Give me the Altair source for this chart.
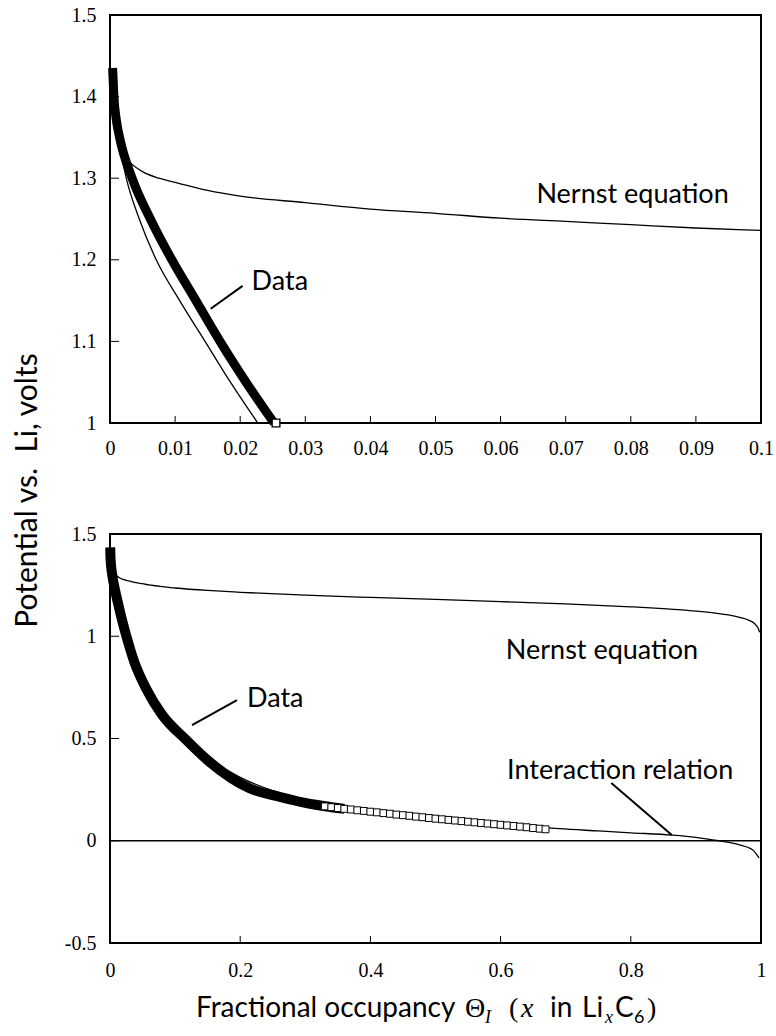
import altair as alt
import pandas as pd

# ---------------- data ----------------
# Nernst-equation curve (theta, volts)
nernst_x = [0.0012, 0.002, 0.003, 0.005, 0.0075, 0.01, 0.015, 0.02, 0.03, 0.04, 0.05,
            0.06, 0.07, 0.08, 0.09, 0.10, 0.15, 0.20, 0.30, 0.40, 0.50, 0.60, 0.70,
            0.80, 0.85, 0.90, 0.93, 0.95, 0.97, 0.98, 0.99, 0.995, 0.998]
nernst_y = [1.345, 1.330, 1.320, 1.308, 1.300, 1.295, 1.285, 1.278, 1.270, 1.262, 1.257,
            1.251, 1.247, 1.243, 1.239, 1.236, 1.224, 1.215, 1.201, 1.190, 1.180, 1.169, 1.158,
            1.144, 1.135, 1.123, 1.113, 1.104, 1.090, 1.080, 1.062, 1.043, 1.020]

# Interaction-relation curve
inter_x = [0.0003, 0.001, 0.0017, 0.0025, 0.0045, 0.0071, 0.0107, 0.0146, 0.0185, 0.0227,
           0.035, 0.05, 0.075, 0.105, 0.14, 0.20, 0.25, 0.30, 0.35, 0.40, 0.50, 0.60,
           0.69, 0.75, 0.80, 0.863, 0.90, 0.935, 0.966, 0.987, 0.997]
inter_y = [1.43, 1.36, 1.33, 1.30, 1.25, 1.20, 1.15, 1.10, 1.05, 1.00,
           0.87, 0.76, 0.62, 0.52, 0.43, 0.31, 0.245, 0.20, 0.17, 0.15, 0.115, 0.085,
           0.059, 0.048, 0.039, 0.028, 0.017, 0.0, -0.019, -0.044, -0.084]

# Measured data (dense part drawn as a heavy trace)
data_x = [0.0004, 0.0006, 0.0010, 0.0015, 0.0034, 0.0062, 0.0095, 0.0132, 0.0169, 0.0209,
          0.0252, 0.037, 0.055, 0.080, 0.116, 0.152, 0.2135, 0.26, 0.30, 0.336, 0.36]
data_y = [1.435, 1.40, 1.37, 1.349, 1.30, 1.25, 1.20, 1.15, 1.10, 1.05,
          1.00, 0.877, 0.747, 0.616, 0.496, 0.388, 0.258, 0.215, 0.185, 0.166, 0.156]

# Measured data shown as open squares (sparser part)
sq_x = [0.33, 0.34, 0.35, 0.36, 0.37, 0.38, 0.39, 0.40, 0.41, 0.42, 0.43, 0.44, 0.45,
        0.46, 0.47, 0.48, 0.49, 0.50, 0.51, 0.52, 0.53, 0.54, 0.55, 0.56, 0.57, 0.58,
        0.59, 0.60, 0.61, 0.62, 0.63, 0.64, 0.65, 0.66, 0.669]
sq_y = [0.168, 0.164, 0.160, 0.156, 0.153, 0.149, 0.146, 0.142, 0.139, 0.135, 0.132, 0.128, 0.125,
        0.122, 0.118, 0.115, 0.111, 0.108, 0.105, 0.102, 0.099, 0.096, 0.093, 0.090, 0.087, 0.084,
        0.081, 0.078, 0.075, 0.072, 0.069, 0.066, 0.062, 0.059, 0.056]

# last data point of the upper (magnified) panel
top_end_x = [0.0255]
top_end_y = [1.0]

# tick values
top_x_labels = [0, 0.01, 0.02, 0.03, 0.04, 0.05, 0.06, 0.07, 0.08, 0.09, 0.1]
top_y_labels = [1, 1.1, 1.2, 1.3, 1.4, 1.5]
top_x_ticks = [0.01, 0.02, 0.03, 0.04, 0.05, 0.06, 0.07, 0.08, 0.09]
top_y_ticks = [1.1, 1.2, 1.3, 1.4]
bot_x_labels = [0, 0.2, 0.4, 0.6, 0.8, 1]
bot_y_labels = [-0.5, 0, 0.5, 1, 1.5]
bot_x_ticks = [0.2, 0.4, 0.6, 0.8]
bot_y_ticks = [0, 0.5, 1]

# ---------------- frames ----------------
nernst = pd.DataFrame({"x": nernst_x, "y": nernst_y})
inter = pd.DataFrame({"x": inter_x, "y": inter_y})
meas = pd.DataFrame({"x": data_x, "y": data_y})
squares = pd.DataFrame({"x": sq_x, "y": sq_y})
top_end = pd.DataFrame({"x": top_end_x, "y": top_end_y})
one = pd.DataFrame({"k": [0]})

W = 651
H_TOP = 408
H_BOT = 409
SANS = "Lato"
SERIF = "Liberation Serif"
TICK_FS = 20
LABEL_EXPR = "replace(format(datum.value, '~g'), '\u2212', '-')"


def xenc(domain, values, pad):
    return alt.X("x:Q", scale=alt.Scale(domain=domain, nice=False, zero=False),
                 axis=alt.Axis(values=values, labelExpr=LABEL_EXPR, title=None,
                               labelPadding=pad, labelFont=SERIF, labelFontSize=TICK_FS,
                               labelColor="black", labelFlush=False, labelOverlap=False))


def yenc(domain, values, title=None):
    kw = dict(values=values, labelExpr=LABEL_EXPR, labelPadding=14, labelFont=SERIF,
              labelFontSize=TICK_FS, labelColor="black", labelFlush=False, labelOverlap=False)
    if title:
        kw.update(title=title, titleX=-74, titleY=475, titleAngle=270, titleAlign="center",
                  titleBaseline="alphabetic", titleFont=SANS, titleFontSize=30,
                  titleFontWeight="normal", titleColor="black")
    else:
        kw.update(title=None)
    return alt.Y("y:Q", scale=alt.Scale(domain=domain, nice=False, zero=False),
                 axis=alt.Axis(**kw))


def label(txt, x, y):
    return alt.Chart(one).mark_text(font=SANS, fontSize=27, align="left",
                                    baseline="alphabetic", color="black").encode(
        x=alt.datum(x), y=alt.datum(y), text=alt.value(txt))


def leader(x1, y1, x2, y2):
    return alt.Chart(one).mark_rule(color="black", strokeWidth=2).encode(
        x=alt.datum(x1), y=alt.datum(y1), x2=alt.datum(x2), y2=alt.datum(y2))


# ---------------- upper panel ----------------
TX = lambda: xenc([0, 0.1], top_x_labels, 15)
TY = lambda: yenc([1, 1.5], top_y_labels, "Potential vs.\u00a0 Li, volts")

t_nernst = alt.Chart(nernst).mark_line(color="black", strokeWidth=1.3, clip=True,
                                       interpolate="monotone").encode(x=TX(), y=TY())
t_inter = alt.Chart(inter).mark_line(color="black", strokeWidth=1.3, clip=True,
                                     interpolate="monotone").encode(x=TX(), y=TY())
t_data = alt.Chart(meas).transform_filter("datum.x <= 0.026").mark_line(
    color="black", strokeWidth=9, interpolate="monotone").encode(x=TX(), y=TY())
t_end = alt.Chart(top_end).mark_square(size=60, fill="white", stroke="black",
                                       strokeWidth=1.4, opacity=1).encode(x=TX(), y=TY())
t_xt = alt.Chart(pd.DataFrame({"x": top_x_ticks})).mark_rule(color="black", strokeWidth=1).encode(
    x=TX(), y=alt.value(H_TOP), y2=alt.value(H_TOP - 7))
t_yt = alt.Chart(pd.DataFrame({"y": top_y_ticks})).mark_rule(color="black", strokeWidth=1).encode(
    y=TY(), x=alt.value(0), x2=alt.value(9))

top = alt.layer(
    t_xt, t_yt, t_nernst, t_inter, t_data, t_end,
    label("Nernst equation", 0.0655, 1.2696),
    label("Data", 0.02175, 1.1634),
    leader(0.01547, 1.140, 0.02037, 1.168),
).properties(width=W, height=H_TOP)

# ---------------- lower panel ----------------
BX = lambda: xenc([0, 1], bot_x_labels, 17)
BY = lambda: yenc([-0.5, 1.5], bot_y_labels)

b_zero = alt.Chart(one).mark_rule(color="black", strokeWidth=1.3).encode(y=alt.datum(0))
b_nernst = alt.Chart(nernst).mark_line(color="black", strokeWidth=1.3,
                                       interpolate="monotone").encode(x=BX(), y=BY())
b_inter = alt.Chart(inter).mark_line(color="black", strokeWidth=1.3,
                                     interpolate="monotone").encode(x=BX(), y=BY())
b_data = alt.Chart(meas).mark_line(color="black", strokeWidth=10,
                                   interpolate="monotone").encode(x=BX(), y=BY())
b_sq = alt.Chart(squares).mark_square(size=48, fill="white", stroke="black",
                                      strokeWidth=1, opacity=1).encode(x=BX(), y=BY())
b_xt = alt.Chart(pd.DataFrame({"x": bot_x_ticks})).mark_rule(color="black", strokeWidth=1).encode(
    x=BX(), y=alt.value(H_BOT), y2=alt.value(H_BOT - 7))
b_yt = alt.Chart(pd.DataFrame({"y": bot_y_ticks})).mark_rule(color="black", strokeWidth=1).encode(
    y=BY(), x=alt.value(0), x2=alt.value(9))


def tpiece(txt, px, py, font=SANS, size=28, style="normal"):
    return alt.Chart(one).mark_text(font=font, fontSize=size, fontStyle=style, align="left",
                                    baseline="alphabetic", color="black").encode(
        x=alt.value(px), y=alt.value(py), text=alt.value(txt))


BL = 483  # baseline of the x title, relative to the lower plot's top
xtitle = [
    tpiece("Fractional occupancy", 86, BL),
    tpiece("\u0398", 355, BL, font=SERIF),
    tpiece("I", 375, BL + 6, font=SERIF, size=18, style="italic"),
    tpiece("(", 399, BL, font=SERIF),
    tpiece("x", 411, BL, font=SERIF, style="italic"),
    tpiece("in", 440, BL),
    tpiece("Li", 472, BL),
    tpiece("x", 495, BL + 6, font=SERIF, size=18, style="italic"),
    tpiece("C", 505, BL),
    tpiece("6", 524, BL + 6, size=18),
    tpiece(")", 537, BL, font=SERIF),
]

bottom = alt.layer(
    b_xt, b_yt, b_zero, b_nernst, b_inter, b_data, b_sq,
    label("Nernst equation", 0.608, 0.889),
    label("Interaction relation", 0.610, 0.302),
    label("Data", 0.2104, 0.6526),
    leader(0.126, 0.566, 0.195, 0.688),
    leader(0.770, 0.282, 0.863, 0.028),
    *xtitle,
).properties(width=W, height=H_BOT)

chart = alt.vconcat(top, bottom, spacing=111, bounds="flush").properties(
    padding={"left": 11, "top": 4, "right": 0, "bottom": 3},
    background="white",
).configure_view(stroke="black", strokeWidth=2).configure_axis(
    domain=False, grid=False, ticks=False, tickSize=0
)

chart.save("out.html", embed_options={"renderer": "svg", "actions": False})
